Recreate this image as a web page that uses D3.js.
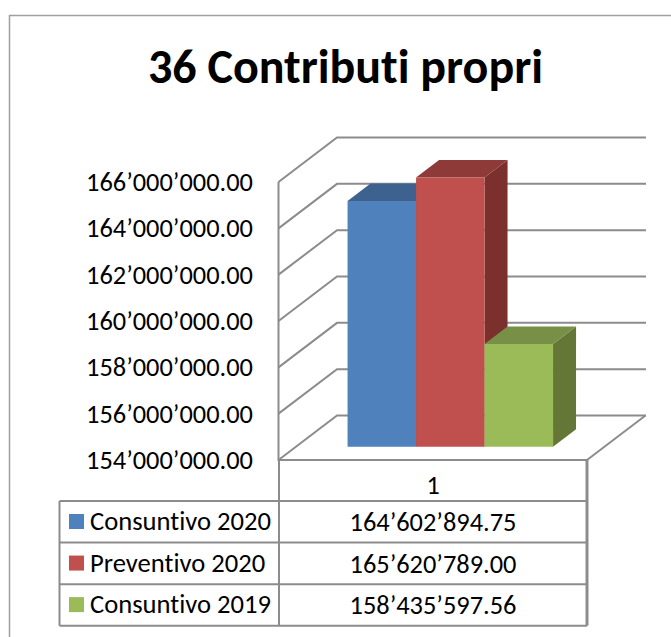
<!DOCTYPE html>
<html>
<head>
<meta charset="utf-8">
<script src="https://cdnjs.cloudflare.com/ajax/libs/d3/7.8.5/d3.min.js"></script>
<style>
  html, body { margin: 0; padding: 0; background: #fff; }
  svg { display: block; }
  text { font-family: Carlito, Calibri, "Open Sans", "Noto Sans", sans-serif; fill: #000; font-variant-ligatures: none; }
</style>
</head>
<body>
<svg id="chart"></svg>
<script>
const title = '36 Contributi propri';
const categories = ['1'];
const seriesNames = ['Consuntivo 2020', 'Preventivo 2020', 'Consuntivo 2019'];
const seriesValues = [164602894.75, 165620789.00, 158435597.56];
const seriesLabels = ['164\u2019602\u2019894.75', '165\u2019620\u2019789.00', '158\u2019435\u2019597.56'];
const seriesColors = ['#4f81bd', '#c0504d', '#9bbb59'];
const topColors = ['#3e628f', '#8e3a38', '#788f46'];
const sideColors = ['#335279', '#7b302e', '#647736'];
const yTicks = [154e6, 156e6, 158e6, 160e6, 162e6, 164e6, 166e6];

const W = 671, H = 637;
const grey = '#8c8c8c';

const svg = d3.select('#chart').attr('width', W).attr('height', H);

// outer frame, runs off the page on the right and at the bottom
svg.append('path')
  .attr('d', `M9.5,${H} V15.5 H${W}`)
  .attr('fill', 'none').attr('stroke', '#a0a0a0').attr('stroke-width', 1.5);

svg.append('text')
  .attr('x', 345.5).attr('y', 83)
  .attr('text-anchor', 'middle')
  .style('font-size', '48px').style('font-weight', 700)
  .text(title);

// front plane of the plot, depth is applied on top of it
const y = d3.scaleLinear().domain([154e6, 166e6]).range([460, 182]);
const floorX = d3.scaleLinear().domain([0, 1]).range([278.5, 587]);
const depthX = 58.5, depthY = -44.5;
const project = (px, py, z) => [px + z * depthX, py + z * depthY];
const line = d3.line();

const walls = svg.append('g').attr('fill', 'none').attr('stroke', grey).attr('stroke-width', 2);

// gridlines run along the side wall then along the back wall
walls.selectAll('path.grid').data(yTicks).join('path')
  .attr('class', 'grid')
  .attr('d', d => {
    const x0 = floorX(0), py = y(d);
    return line([[x0, py], project(x0, py, 1), [646, project(x0, py, 1)[1]]]);
  });

// left wall edge, floor front edge, floor right edge
walls.append('path').attr('d', line([[floorX(0), y(166e6)], [floorX(0), y(154e6)], [floorX(1), y(154e6)]]));
walls.append('path').attr('d', line([[floorX(1), y(154e6)], project(floorX(1), y(154e6), 1)]));

// bars
const barX = d3.scaleBand().domain(seriesNames).range([floorX(0), floorX(1)]).paddingInner(0).paddingOuter(0.752);
const zFront = 0.3, zBack = 0.693;
const bars = svg.append('g').selectAll('g').data(seriesNames).join('g');

const corner = (name, i, right, top, z) => {
  const px = barX(name) + (right ? barX.bandwidth() : 0);
  const py = top ? y(seriesValues[i]) : y(154e6);
  return project(px, py, z);
};
const quad = pts => line(pts) + 'Z';

bars.append('path').attr('fill', (d, i) => sideColors[i])
  .attr('d', (d, i) => quad([corner(d, i, true, true, zFront), corner(d, i, true, true, zBack), corner(d, i, true, false, zBack), corner(d, i, true, false, zFront)]));
bars.append('path').attr('fill', (d, i) => topColors[i])
  .attr('d', (d, i) => quad([corner(d, i, false, true, zFront), corner(d, i, false, true, zBack), corner(d, i, true, true, zBack), corner(d, i, true, true, zFront)]));
bars.append('path').attr('fill', (d, i) => seriesColors[i])
  .attr('d', (d, i) => quad([corner(d, i, false, true, zFront), corner(d, i, true, true, zFront), corner(d, i, true, false, zFront), corner(d, i, false, false, zFront)]));

// y axis labels
const fmt = v => d3.format(',.2f')(v).replace(/,/g, '\u2019');
svg.append('g').selectAll('text').data(yTicks).join('text')
  .attr('x', 253).attr('y', d => y(d) + 9)
  .attr('text-anchor', 'end')
  .style('font-size', '26.4px')
  .text(fmt);

// data table
const rowY = d3.scaleBand().domain(seriesNames).range([501, 625.7]);
const colX = [59.5, 279, 587];
const table = svg.append('g');
table.append('text')
  .attr('x', (colX[1] + colX[2]) / 2).attr('y', 494)
  .attr('text-anchor', 'middle')
  .style('font-size', '26px')
  .text(categories[0]);

const tableLines = table.append('g').attr('stroke', grey).attr('stroke-width', 2).attr('fill', 'none');
tableLines.append('path').attr('d', line([[colX[1], y(154e6)], [colX[1], 625.7]]));
tableLines.append('path').attr('d', line([[colX[2], y(154e6)], [colX[2], 625.7]])).attr('stroke-width', 3);
tableLines.append('path').attr('d', line([[colX[0], 501], [colX[0], 625.7]]));
tableLines.selectAll('path.row').data([...seriesNames, 'end']).join('path')
  .attr('class', 'row')
  .attr('d', (d, i) => {
    const ry = 501 + i * rowY.bandwidth();
    return line([[colX[0], ry], [colX[2], ry]]);
  });

const rows = table.append('g').selectAll('g').data(seriesNames).join('g');
rows.append('rect')
  .attr('x', 69).attr('width', 15).attr('height', 15)
  .attr('y', d => rowY(d) + 13)
  .attr('fill', (d, i) => seriesColors[i]);
rows.append('text')
  .attr('x', 90).attr('y', d => rowY(d) + 29)
  .style('font-size', '26.6px')
  .text(d => d);
rows.append('text')
  .attr('x', (colX[1] + colX[2]) / 2).attr('y', d => rowY(d) + 30)
  .attr('text-anchor', 'middle')
  .style('font-size', '26.4px')
  .text((d, i) => seriesLabels[i]);
</script>
</body>
</html>
